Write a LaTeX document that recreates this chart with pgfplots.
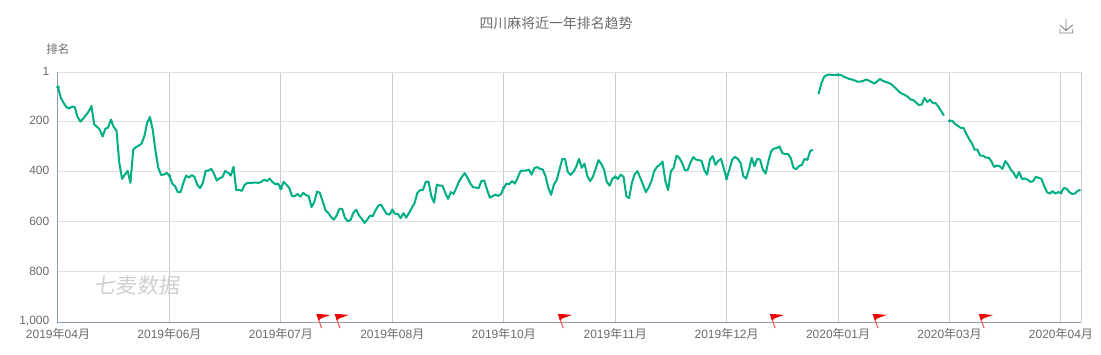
\documentclass[border=0pt]{standalone}
\usepackage{fontspec}
\setmainfont{Liberation Sans}
\newfontfamily\cjk{Noto Sans CJK SC}
\newfontfamily\cjkslant[FakeSlant=0.12]{Noto Sans CJK SC}
\usepackage{pgfplots}
\pgfplotsset{compat=1.18}
\definecolor{line}{HTML}{00AE84}
\definecolor{txt}{HTML}{6A6A6A}
\definecolor{axc}{HTML}{8E9BA8}
\definecolor{gh}{HTML}{E0E0E0}
\definecolor{gv}{HTML}{CCCCCC}
\pgfdeclareplotmark{evflag}{%
  \pgfsetlinewidth{1pt}\pgfsetstrokecolor{red!70!white}\pgfsetfillcolor{red!95!black}%
  \pgfpathmoveto{\pgfpoint{1.7pt}{-6pt}}\pgfpathlineto{\pgfpoint{-1.5pt}{3pt}}\pgfusepathqstroke
  \pgfpathmoveto{\pgfpoint{-3.6pt}{8pt}}\pgfpathlineto{\pgfpoint{2pt}{7.8pt}}\pgfpathlineto{\pgfpoint{10.5pt}{7pt}}%
  \pgfpathlineto{\pgfpoint{1.5pt}{3.8pt}}\pgfpathlineto{\pgfpoint{-1.5pt}{1.6pt}}\pgfpathclose\pgfusepathqfill}
\begin{document}
\begin{tikzpicture}[x=1pt,y=1pt]
\useasboundingbox (-58,-32) rectangle (1043,322);
\begin{axis}[
  at={(0,0)},anchor=south west,
  scale only axis,width=1023pt,height=250pt,
  xmin=0,xmax=367.2,ymin=1,ymax=1000,y dir=reverse,
  clip=false,
  axis x line*=top,
  axis line style={draw=none},
  tick style={draw=none},
  xtick={0,40,80,120,160,200,240,280,320,360},
  extra x ticks={367.2},extra x tick labels={},
  xticklabels={2019{\cjk 年}04{\cjk 月},2019{\cjk 年}06{\cjk 月},2019{\cjk 年}07{\cjk 月},2019{\cjk 年}08{\cjk 月},2019{\cjk 年}10{\cjk 月},2019{\cjk 年}11{\cjk 月},2019{\cjk 年}12{\cjk 月},2020{\cjk 年}01{\cjk 月},2020{\cjk 年}03{\cjk 月},2020{\cjk 年}04{\cjk 月}},
  ytick={1,200,400,600,800,1000},
  yticklabels={1,200,400,600,800,{1,000}},
  xtick pos=bottom,ytick pos=left,
  xticklabel style={font=\fontsize{12}{14}\selectfont,text=txt,anchor=center,yshift=-11.5pt,inner sep=0pt},
  yticklabel style={font=\fontsize{12}{14}\selectfont,text=txt,anchor=east,xshift=-8.5pt,yshift=1pt,inner sep=0pt},
  xmajorgrids,ymajorgrids,
  x grid style={gv,line width=1pt},
  y grid style={gh,line width=1pt},
  unbounded coords=jump,
]
\addplot[forget plot,draw=axc,line width=1pt] coordinates {(0,1) (0,1000) (367.2,1000)};
\addplot[line,line width=2pt,line join=round,no marks] table {
x y
0 61
1 104
2 124
3 141
4 147
5 139
6 141
7 180
8 199
9 188
11 159
12 137
13 211
14 220
15 231
16 259
17 228
18 223
19 191
20 221
21 235
22 364
23 428
24 411
25 396
26 444
27 312
28 301
29 295
30 287
31 257
32 204
33 181
34 231
35 317
36 384
37 412
38 411
39 404
40 415
41 447
42 457
43 481
44 481
45 444
46 415
47 423
48 413
49 420
50 452
51 465
52 444
53 396
54 395
55 388
56 407
57 435
58 425
59 421
60 397
61 403
62 415
63 380
64 473
65 472
66 476
67 452
68 444
69 444
71 443
72 444
73 440
74 431
75 437
76 427
77 441
78 449
79 447
80 467
81 440
82 451
83 464
84 497
85 497
86 488
87 499
88 484
89 493
90 497
91 541
92 520
93 479
94 484
95 517
96 553
97 564
98 580
99 591
100 575
101 548
102 548
103 584
104 597
105 593
106 564
107 551
108 573
109 587
110 604
111 591
112 575
113 577
114 553
115 535
116 531
117 551
118 568
119 571
120 553
121 568
122 568
123 585
124 565
125 583
126 564
127 544
128 524
129 484
130 473
131 473
132 440
133 439
134 497
135 523
136 451
137 455
138 455
139 484
140 508
141 481
142 488
143 464
144 437
145 420
146 405
147 424
148 447
149 461
150 463
151 465
152 436
153 435
154 471
155 503
156 497
157 491
158 496
159 489
160 463
161 447
162 449
163 437
164 447
165 424
166 397
167 395
168 395
169 391
170 411
171 385
172 381
173 388
174 391
175 417
176 464
177 492
178 451
179 433
180 391
181 349
182 349
183 401
184 412
185 400
186 380
187 348
188 384
189 367
190 417
191 437
192 420
193 388
194 353
195 368
196 391
197 440
198 455
199 428
200 420
201 428
202 411
203 420
204 497
205 505
206 444
207 409
208 397
209 424
210 451
211 481
212 463
213 437
214 397
215 380
216 372
217 359
218 437
219 473
220 397
221 384
222 335
223 344
224 364
225 393
226 393
227 364
228 341
229 351
230 353
231 356
232 393
233 411
234 351
235 337
236 372
237 356
238 348
239 388
240 427
241 391
242 351
243 340
244 348
245 364
246 417
247 427
248 391
249 344
250 377
251 348
252 351
253 391
254 407
255 357
256 317
257 307
258 305
259 299
260 325
261 329
262 328
263 344
264 384
265 389
266 377
267 372
268 348
269 352
270 316
271 313
272 nan
273 89
274 47
275 20
276 13
277 11
278 13
279 13
280 12
281 13
282 19
283 24
284 29
285 31
286 35
287 40
288 39
289 37
290 31
291 35
292 41
293 47
294 39
295 29
296 36
297 40
298 44
299 49
300 59
301 69
302 81
303 88
304 93
305 100
306 111
307 113
308 123
309 133
310 131
311 104
312 121
313 111
314 125
315 125
316 139
317 157
318 175
319 nan
320 196
321 196
322 209
323 216
324 224
325 224
326 247
327 268
328 285
329 311
330 311
331 335
332 335
333 343
334 343
335 357
336 380
337 375
338 377
339 388
340 357
341 371
342 391
343 404
344 424
345 401
346 428
347 427
348 431
349 440
350 437
351 420
352 424
353 428
354 457
355 481
356 487
357 477
358 487
359 481
360 484
361 465
362 467
363 481
364 488
365 487
366 476
367 472
};
\addplot[only marks,mark=*,mark size=1.5pt,color=line] coordinates {(0,61) (40,415) (80,467) (120,553) (160,463) (200,420) (240,427) (280,12) (320,196) (360,484)};
\addplot[only marks,mark=evflag] coordinates {(94,1000) (100.6,1000) (180.7,1000) (256.8,1000) (293.7,1000) (331.8,1000)};
\end{axis}
\node[anchor=center,text=txt,font=\fontsize{13.9}{16}\selectfont\cjk,inner sep=0pt] at (498,299) {四川麻将近一年排名趋势};
\node[anchor=center,text=txt,font=\fontsize{11.5}{14}\selectfont\cjk,inner sep=0pt] at (0,273) {排名};
\node[anchor=center,text=gray!38,font=\fontsize{21.2}{24}\selectfont\cjkslant,inner sep=0pt] at (79,37) {七麦数据};
\draw[color=gray,line width=.9pt] (1008,303) -- (1008,291.5) (1002,297) -- (1008,291.5) -- (1014.7,297) (1002,293) -- (1002,289) -- (1014.7,289) -- (1014.7,293);
\end{tikzpicture}
\end{document}
